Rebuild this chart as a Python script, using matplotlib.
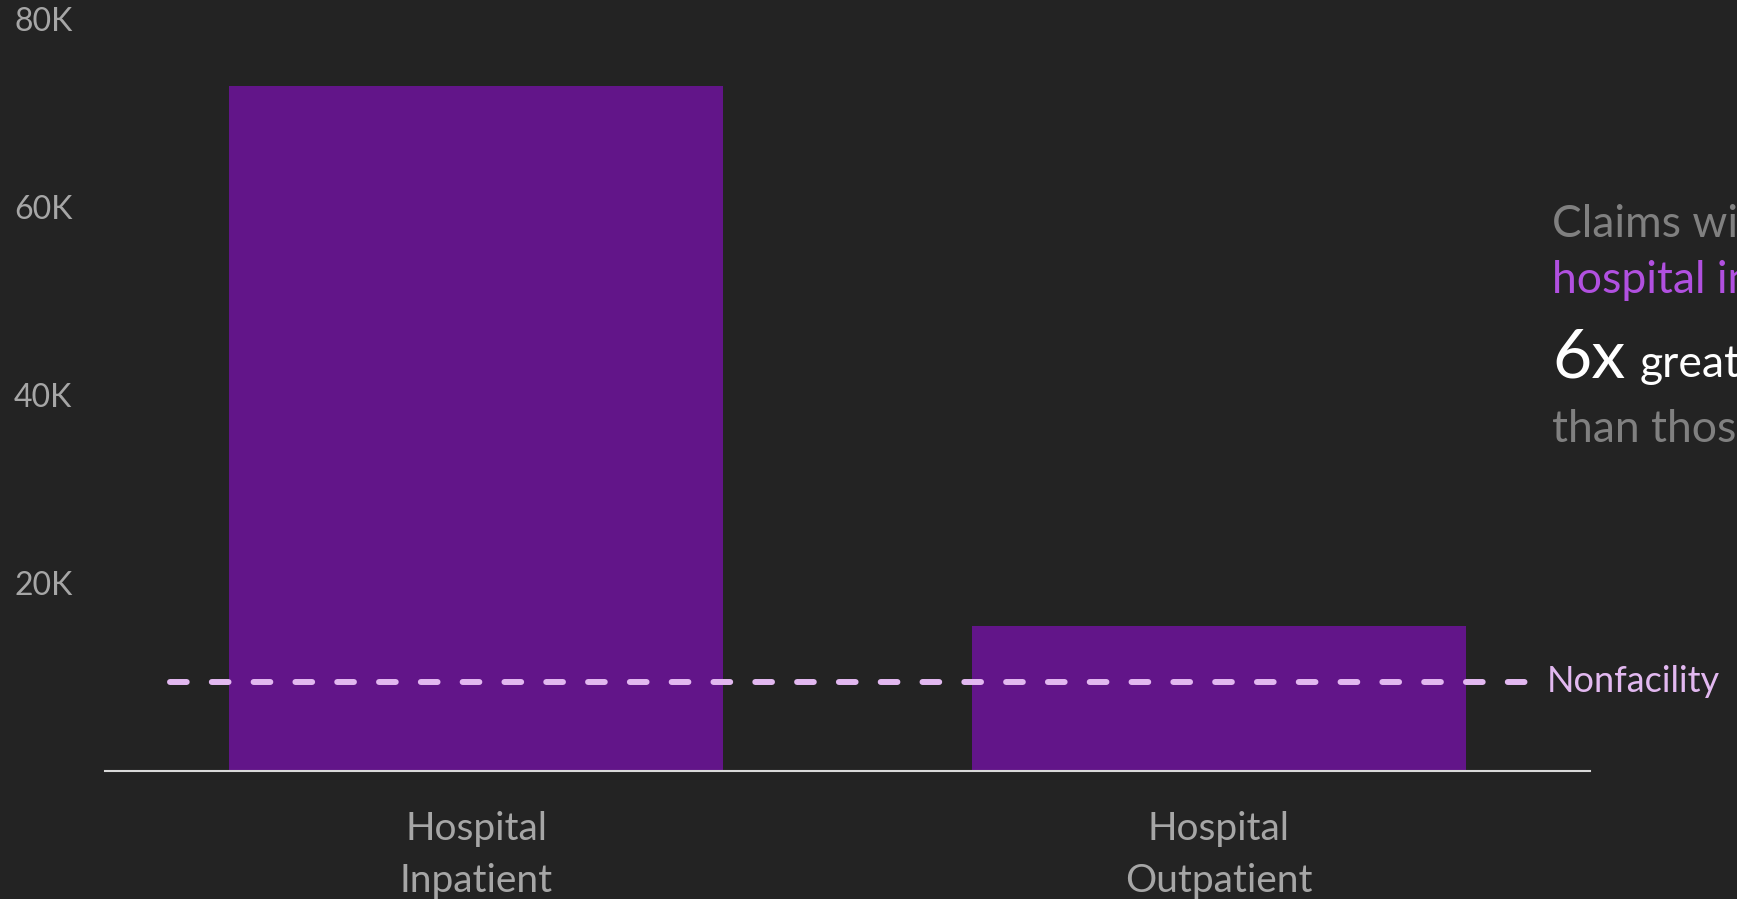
import matplotlib
matplotlib.use("Agg")
import matplotlib.pyplot as plt

categories = ["Hospital\nInpatient", "Hospital\nOutpatient"]
values = [72900, 15400]
nonfacility_value = 9500
ytick_values = [20000, 40000, 60000, 80000]
ytick_labels = ["20K", "40K", "60K", "80K"]

BG = "#232323"
BAR = "#621589"
DASH = "#E2B8F0"
TICK = "#A6A6A6"
FONT = "Lato"

plt.rcParams["font.family"] = [FONT, "DejaVu Sans"]

W, H = 1737, 899
fig = plt.figure(figsize=(W / 100, H / 100), dpi=100, facecolor=BG)
left_px, right_px, bottom_px, top_px = 105, 1590, 771, 19
ax = fig.add_axes([left_px / W, (H - bottom_px) / H,
                   (right_px - left_px) / W, (bottom_px - top_px) / H])
ax.set_facecolor(BG)

x = list(range(len(categories)))
ax.bar(x, values, width=0.665, color=BAR, zorder=2)
ax.set_xlim(-0.5, 1.5)
ax.set_ylim(0, 80000)

for s in ["top", "right", "left"]:
    ax.spines[s].set_visible(False)
ax.spines["bottom"].set_color("#D9D9D9")
ax.spines["bottom"].set_linewidth(1.5)
ax.spines["bottom"].set_zorder(3)

ax.set_yticks(ytick_values)
ax.set_yticklabels(ytick_labels, fontsize=23, color=TICK, ha="left")
ax.tick_params(axis="y", length=0, pad=65.5)
ax.set_xticks(x)
ax.set_xticklabels(categories, fontsize=28, color=TICK, linespacing=1.55)
ax.tick_params(axis="x", length=0, pad=29)

ax.hlines(nonfacility_value, -0.412, 1.418, colors=DASH, linewidth=4.3,
          linestyles=(0, (2.8, 4.2)), capstyle="round", zorder=4)
ax.text(1.442, nonfacility_value, "Nonfacility", color=DASH, fontsize=26,
        va="center", ha="left", clip_on=False)

tx = 1552 / W
fs = 32
fig.text(tx, (H - 237) / H, "Claims with", color="#808080", fontsize=fs, va="baseline")
fig.text(tx, (H - 293) / H, "hospital inpatient", color="#B150E0", fontsize=fs, va="baseline")
fig.text(tx, (H - 377) / H, "6x", color="#FFFFFF", fontsize=49, va="baseline")
fig.text(1640 / W, (H - 377) / H, "greater", color="#FFFFFF", fontsize=fs, va="baseline")
fig.text(tx, (H - 442) / H, "than those", color="#808080", fontsize=fs, va="baseline")

fig.savefig("out.png", dpi=100, facecolor=BG)
